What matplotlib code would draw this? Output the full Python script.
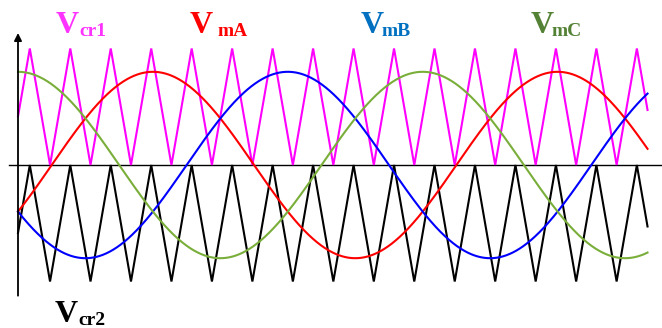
import numpy as np
import matplotlib
matplotlib.use("Agg")
import matplotlib.pyplot as plt

# ---- waveform parameters ----
modulation_index = 0.8          # sine amplitude relative to carrier amplitude
freq_ratio = 10                 # carrier periods per fundamental period
phase_names = ["A", "B", "C"]
phase_shifts_deg = [0, -120, 120]
sine_colors = ["#FF0000", "#0000FF", "#7AAE3A"]
theta_start, theta_end = -30.0, 530.0   # fundamental angle span (deg)
carrier_peak_offset = -19.5             # angle of first carrier peak (deg)

label_texts = [("V", "cr1"), ("V", "mA"), ("V", "mB"), ("V", "mC"), ("V", "cr2")]
label_colors = ["#FF33FF", "#FF0000", "#0070C0", "#548235", "#000000"]

# ---- figure / pixel mapping ----
W, H = 662, 328
fig = plt.figure(figsize=(W / 100, H / 100), dpi=100)
ax = fig.add_axes([0, 0, 1, 1])
ax.set_axis_off()

x0_px, px_per_deg = 18.0, 404.7 / 360.0
y0_px, px_per_unit = 165.0, 116.5
ax.set_xlim(theta_start - x0_px / px_per_deg, theta_start + (W - x0_px) / px_per_deg)
ax.set_ylim(-(H - y0_px) / px_per_unit, y0_px / px_per_unit)

theta = np.linspace(theta_start, theta_end, 4000)

# carrier (triangle) vertices
carrier_period = 360.0 / freq_ratio
k = np.arange(-2, freq_ratio * 2 + 3)
vx = np.sort(np.concatenate([carrier_peak_offset + k * carrier_period,
                             carrier_peak_offset + carrier_period / 2 + k * carrier_period]))
vy = np.tile([1.0, 0.0], len(k))
tri_x = np.concatenate([[theta_start], vx[(vx > theta_start) & (vx < theta_end)], [theta_end]])
tri = np.interp(tri_x, vx, vy)

lw = 1.5
ax.plot(tri_x, tri, color="#FF00FF", lw=lw, solid_joinstyle="miter", zorder=2)
ax.plot(tri_x, tri - 1.0, color="black", lw=lw, solid_joinstyle="miter", zorder=2)

for ph, col in zip(phase_shifts_deg, sine_colors):
    ax.plot(theta, modulation_index * np.sin(np.radians(theta + ph)), color=col, lw=lw, zorder=3)

# axes lines
ax.plot([ax.get_xlim()[0] + 9 / px_per_deg, ax.get_xlim()[1]], [0, 0], color="black", lw=1.0, zorder=1)
ax.annotate("", xy=(theta_start, (y0_px - 33) / px_per_unit),
            xytext=(theta_start, -(295.7 - y0_px) / px_per_unit),
            arrowprops=dict(arrowstyle="-|>", lw=1.3, color="black", mutation_scale=11,
                            shrinkA=0, shrinkB=0), zorder=4)

# labels (pixel positions: left of V, baseline of V)
label_pos = [(56, 33), (190, 33), (361, 33), (531, 33), (55, 322)]
sub_offsets = [23, 27, 21, 21, 23]
big_fs, small_fs = 23, 14
for (main, sub), col, (px, py), so in zip(label_texts, label_colors, label_pos, sub_offsets):
    fig.text(px / W, 1 - py / H, main, color=col, fontsize=big_fs, fontweight="bold",
             family="Liberation Serif", ha="left", va="baseline")
    fig.text((px + so) / W, 1 - (py + 3) / H, sub, color=col, fontsize=small_fs, fontweight="bold",
             family="Liberation Serif", ha="left", va="baseline")

fig.savefig("out.png", dpi=100)
